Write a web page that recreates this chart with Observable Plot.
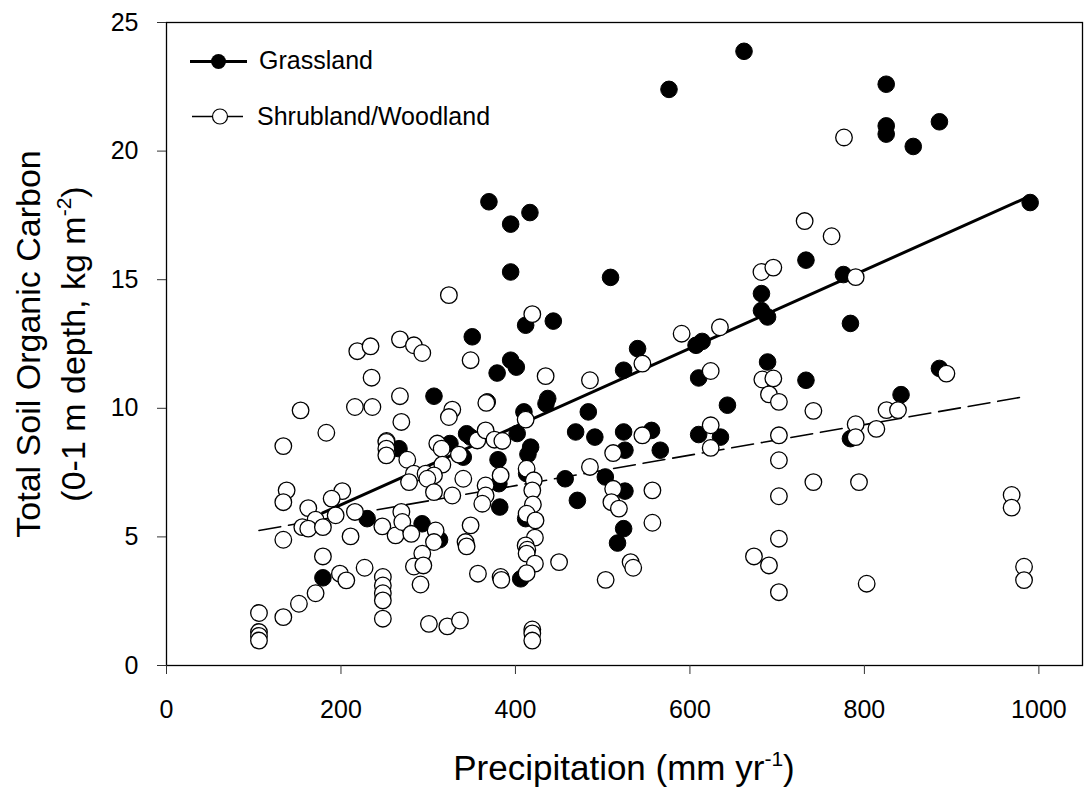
<!DOCTYPE html>
<html><head><meta charset="utf-8">
<script src="https://cdn.jsdelivr.net/npm/d3@7"></script>
<script src="https://cdn.jsdelivr.net/npm/@observablehq/plot@0.6"></script>
<style>body{margin:0;background:#fff}</style>
</head><body><div id="chart"></div>
<script>
const seriesNames = ["Grassland", "Shrubland/Woodland"];
const xTicks = [0, 200, 400, 600, 800, 1000];
const yTicks = [0, 5, 10, 15, 20, 25];

const grassPrecip = [662,576,825,825,825,886,856,990,733,509,682,776,682,689,784,607,614,540,524,689,610,733,643,483.5,469,491,524,556,525.5,566,610,635,784,503,525.5,524,517,471,457,886,842,
  411.7,443.4,350.5,394.5,401,379,367.7,437,435,409.7,402,348.6,380,417.4,414.3,381,412.8,382,411.7,406,
  369.6,416.6,394.5,394.5,306.6,344,266.5,324.9,340.2,230,179.3,293,313];
const grassSOC = [23.88,22.4,22.6,20.98,20.66,21.14,20.18,18.0,15.76,15.09,14.46,15.2,13.8,13.55,13.3,12.45,12.6,12.32,11.48,11.8,11.18,11.09,10.12,9.86,9.08,8.88,9.08,9.14,8.37,8.37,8.98,8.88,8.82,7.33,6.78,5.32,4.76,6.42,7.26,11.55,10.53,
  13.23,13.39,12.78,11.87,11.6,11.37,10.25,10.38,10.18,9.86,9.02,8.88,8.0,8.49,8.21,7.07,7.46,6.16,5.71,3.37,
  18.03,17.61,17.16,15.3,10.47,9.01,8.43,8.63,8.1,5.71,3.41,5.51,4.89];

const shrubPrecip = [776.6,731.5,762.4,682,695.6,790,634.4,590.5,545.5,485.4,683,695.6,623.8,690.6,702,741.5,545.5,512,623.8,623.8,702,702,741.5,793.8,790,790,702,702,673.4,690.6,702,802.6,485.4,512,510,518.6,557,557,532,535,503.4,894,825.4,838.5,813.7,968.8,968.8,983,983,
  419.3,348.6,434.6,366.6,411.7,356.3,365.8,376,385,383,412.8,421,419.3,365.8,365.8,362,420,412.8,423,422.3,411.7,413.6,412.8,422.3,412.8,450,357,383,383.8,419.3,419.3,419.3,
  323.7,267.6,283.6,293.2,267.6,327.6,323.7,269.2,252.3,253.1,276,310.4,315.4,335.2,316.2,283.6,297,306.6,278,299,340.2,306.6,327.6,
  218.7,233.9,235.1,216,236,153.7,183.2,133.9,252,252,252,137.7,133.9,201.5,189.3,162.5,170.9,193.9,216,155.7,162.5,179.3,211,133.9,247.4,262.6,179.3,198.8,206.1,227.1,170.9,151.8,133.9,106,106,106,106,248,248,248,248,248,
  269.2,270.3,308.5,306.6,280.6,348.6,342.8,344,293.2,283.6,294.4,291.2,300.8,321.9,336.4];
const shrubSOC = [20.53,17.28,16.69,15.30,15.47,15.1,13.15,12.9,11.74,11.09,11.12,11.16,11.45,10.54,10.25,9.9,8.95,8.26,9.34,8.46,8.95,7.98,7.13,7.13,9.38,8.88,6.58,4.93,4.24,3.89,2.85,3.18,7.72,6.87,6.35,6.1,6.81,5.55,4.02,3.8,3.33,11.35,9.93,9.93,9.2,6.63,6.14,3.84,3.32,
  13.66,11.87,11.25,10.21,9.56,8.75,9.14,8.78,8.73,7.39,7.65,7.2,6.81,7.0,6.61,6.29,6.26,5.9,5.64,4.97,4.67,4.5,4.35,3.96,3.59,4.02,3.57,3.44,3.33,1.4,1.25,0.97,
  14.4,12.68,12.45,12.15,10.47,9.95,9.66,9.47,8.73,8.24,8.0,8.63,8.43,8.2,7.81,7.46,7.46,7.39,7.13,7.26,7.26,6.74,6.61,
  12.22,12.41,11.19,10.05,10.05,9.92,9.05,8.53,8.69,8.43,8.17,6.81,6.35,6.78,6.49,6.12,5.67,5.84,5.97,5.38,5.32,5.38,5.02,4.89,5.41,5.06,4.24,3.57,3.31,3.8,2.81,2.4,1.88,2.04,1.3,1.15,0.97,3.44,3.11,2.81,2.53,1.82,
  5.97,5.58,5.25,4.8,5.12,5.45,4.8,4.63,4.35,3.85,3.89,3.15,1.62,1.52,1.75];

const grassFitPrecip = [179, 989];
const grassFitSOC = [5.93, 18.24];
const shrubFitPrecip = [106, 978];
const shrubFitSOC = [5.25, 10.42];

const grass = grassPrecip.map((p, i) => ({p, s: grassSOC[i]}));
const shrub = shrubPrecip.map((p, i) => ({p, s: shrubSOC[i]}));
const grassFit = grassFitPrecip.map((p, i) => ({p, s: grassFitSOC[i]}));
const shrubFit = shrubFitPrecip.map((p, i) => ({p, s: shrubFitSOC[i]}));

const FONT = "'Liberation Sans', Arial, Helvetica, sans-serif";

const svg = Plot.plot({
  width: 1084, height: 792,
  marginLeft: 166, marginRight: 2, marginTop: 22, marginBottom: 127,
  style: {fontFamily: FONT, fontSize: "25px", background: "#fff", color: "#000"},
  x: {domain: [0, 1050]},
  y: {domain: [0, 25]},
  marks: [
    Plot.frame({stroke: "#000", strokeWidth: 1.3}),
    Plot.axisX(xTicks, {tickSize: 9, tickPadding: 26, fontSize: 25, label: null, stroke: "#333", tickFormat: d => String(d)}),
    Plot.axisY(yTicks, {tickSize: 9, tickPadding: 19, fontSize: 25, label: null, stroke: "#333", tickFormat: d => String(d)}),
    Plot.line(grassFit, {x: "p", y: "s", stroke: "#000", strokeWidth: 3}),
    Plot.line(shrubFit, {x: "p", y: "s", stroke: "#000", strokeWidth: 1.6, strokeDasharray: "22,8"}),
    Plot.dot(grass, {x: "p", y: "s", r: 8.3, fill: "#000", stroke: "#000", strokeWidth: 1}),
    Plot.dot(shrub, {x: "p", y: "s", r: 8.3, fill: "#fff", stroke: "#000", strokeWidth: 1.3})
  ]
});
document.getElementById("chart").appendChild(svg);

const s = d3.select(svg);
// X axis title
const xt = s.append("text").attr("x", 624).attr("y", 780).attr("text-anchor", "middle")
  .attr("font-family", FONT).attr("font-size", 35).attr("fill", "#000");
xt.append("tspan").text("Precipitation (mm yr");
xt.append("tspan").attr("font-size", 21).attr("dy", "-14").text("-1");
xt.append("tspan").attr("dy", "14").text(")");

// Y axis title (two lines)
s.append("text").attr("transform", "translate(40,344) rotate(-90)")
  .attr("text-anchor", "middle").attr("font-family", FONT).attr("font-size", 34).attr("fill", "#000")
  .text("Total Soil Organic Carbon");
const yt2 = s.append("text").attr("transform", "translate(85,344) rotate(-90)")
  .attr("text-anchor", "middle").attr("font-family", FONT).attr("font-size", 34).attr("fill", "#000");
yt2.append("tspan").text("(0-1 m depth, kg m");
yt2.append("tspan").attr("font-size", 21).attr("dy", "-14").text("-2");
yt2.append("tspan").attr("dy", "14").text(")");

// Legend
const lg = s.append("g").attr("font-family", FONT).attr("font-size", 25).attr("fill", "#000").attr("text-anchor", "start");
lg.append("line").attr("x1", 190).attr("x2", 247).attr("y1", 61.5).attr("y2", 61.5).attr("stroke", "#000").attr("stroke-width", 3);
lg.append("circle").attr("cx", 218.5).attr("cy", 61.5).attr("r", 7.5).attr("fill", "#000");
lg.append("text").attr("x", 259).attr("y", 69).attr("text-anchor", "start").text(seriesNames[0]);
lg.append("line").attr("x1", 192).attr("x2", 243).attr("y1", 116.5).attr("y2", 116.5).attr("stroke", "#000").attr("stroke-width", 1.5);
lg.append("circle").attr("cx", 220).attr("cy", 116.5).attr("r", 7.5).attr("fill", "#fff").attr("stroke", "#000").attr("stroke-width", 1.2);
lg.append("text").attr("x", 257).attr("y", 125).attr("text-anchor", "start").text(seriesNames[1]);
</script>
</body></html>
